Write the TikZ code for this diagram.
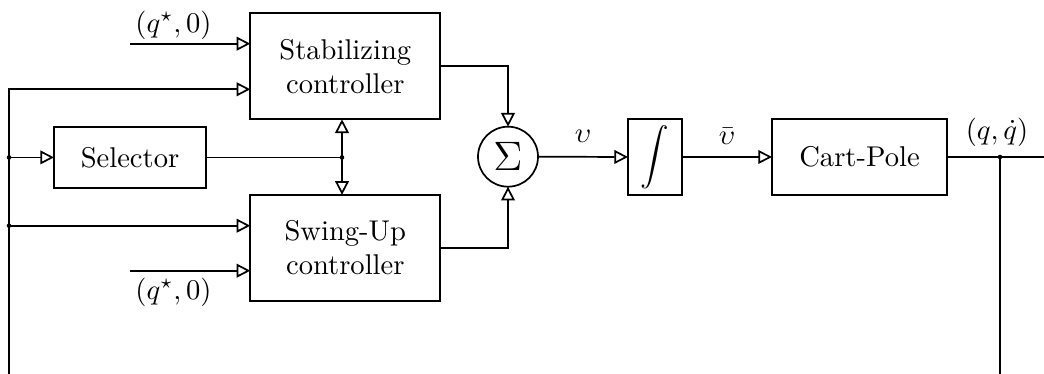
\documentclass[tikz,border=0pt]{standalone}
\usetikzlibrary{arrows.meta}
\begin{document}
\begin{tikzpicture}[x=0.35pt,y=-0.35pt,
  every node/.style={inner sep=0pt,outer sep=0pt},
  block/.style={draw,line width=0.6pt,align=center},
  sumnode/.style={draw,circle,line width=0.6pt,minimum size=21pt},
  arr/.style={line width=0.6pt,-{Triangle[open,length=4.8pt,width=4.8pt]}},
  wire/.style={line width=0.6pt}]
\useasboundingbox (0,0) rectangle (1044,374);
% blocks
\node[block,minimum width=66.5pt,minimum height=37.1pt] (stab) at (345.3,66.3) {Stabilizing\\controller};
\node[block,minimum width=66.5pt,minimum height=37.1pt] (swing) at (345.3,247.9) {Swing-Up\\controller};
\node[block,minimum width=53.2pt,minimum height=21.35pt] (sel) at (130,157.4) {Selector};
\node[sumnode] (sum) at (508,156.7) {\Large$\Sigma$};
\node[block,minimum width=18.9pt,minimum height=26.6pt] (int) at (655,157) {$\displaystyle\int$};
\node[block,minimum width=61.25pt,minimum height=26.6pt] (cart) at (859.5,157) {Cart-Pole};
% coordinates
\coordinate (q1) at (130,43.7);
\coordinate (q2) at (130,270.7);
\coordinate (topL) at (9,89.3);
\coordinate (botL) at (9,376);
\coordinate (j1) at (9,157.4);
\coordinate (j2) at (9,225.7);
\coordinate (jc) at (342,157.4);
\coordinate (jo) at (1000,157);
\coordinate (botR) at (1000,376);
\coordinate (outR) at (1062,157);
\foreach \p in {j1,j2,jc,jo} \fill (\p) circle (0.8pt);
% labels
\node (lq1) at (173.5,25) {$(q^\star,0)$};
\node (lq2) at (173.5,292) {$(q^\star,0)$};
\node (lu) at (583,136) {$\upsilon$};
\node (lub) at (727,136) {$\bar{\upsilon}$};
\node (lq) at (997,132) {$(q,\dot{q})$};
% connectors
\draw[arr] (q1) -- (stab.west |- q1);
\draw[arr] (q2) -- (swing.west |- q2);
\draw[arr] (botL) -- (topL) -- (stab.west |- topL);
\draw[arr] (j1) -- (sel.west);
\draw[arr] (j2) -- (swing.west |- j2);
\draw[wire] (sel.east) -- (jc);
\draw[arr] (jc) -- (stab.south -| jc);
\draw[arr] (jc) -- (swing.north -| jc);
\draw[arr] (stab.east) -| (sum.north);
\draw[arr] (swing.east) -| (sum.south);
\draw[arr] (sum.east) -- (int.west);
\draw[arr] (int.east) -- (cart.west);
\draw[arr] (cart.east) -- (outR);
\draw[wire] (jo) -- (botR);
\end{tikzpicture}
\end{document}
